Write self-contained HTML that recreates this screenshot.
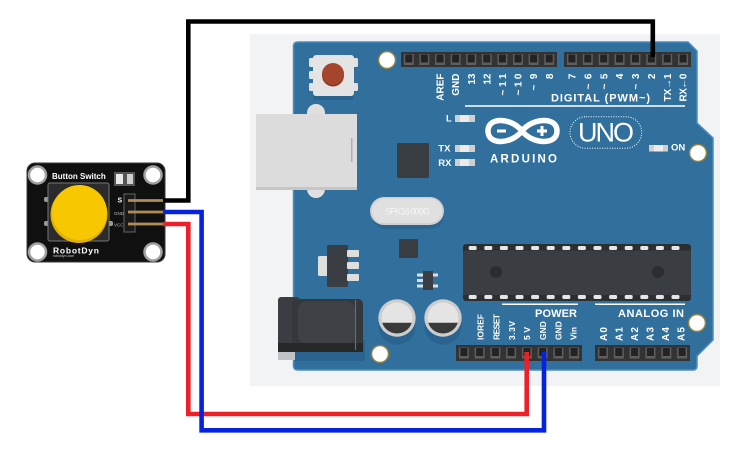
<!DOCTYPE html>
<html><head><meta charset="utf-8"><style>
html,body{margin:0;padding:0;background:#fff;}
svg{display:block;}
text{font-family:"Liberation Sans",sans-serif;}
</style></head><body>
<svg width="747" height="452" viewBox="0 0 747 452" xmlns="http://www.w3.org/2000/svg">
<defs>
<g id="pin"><rect x="-5" y="0" width="10" height="11" fill="#5e5e5e"/><rect x="-3.5" y="0.5" width="7" height="8" fill="#232323"/></g>
<rect id="cp" x="-4" y="0" width="8" height="4" rx="1.5" fill="#e6e6e6"/>
</defs>
<rect x="0" y="0" width="747" height="452" fill="#fff"/>
<rect x="250" y="34" width="470" height="352" fill="#f2f3f5"/>

<!-- board -->
<path d="M298,42 H688 L697,51 V123 L713,138 V340 L697,356 V366 Q697,370 693,370 H298 Q293.5,370 293.5,365.5 V46.5 Q293.5,42 298,42 Z" fill="#31709d" stroke="#4a8dc4" stroke-width="1.5"/>

<!-- shadows -->
<rect x="295" y="340" width="70" height="21" fill="#2a6390"/>
<circle cx="397" cy="326" r="18.7" fill="#2a6390"/>
<circle cx="443" cy="326" r="18.7" fill="#2a6390"/>
<rect x="372" y="202" width="72" height="27" rx="13" fill="#2c6592"/>
<rect x="313" y="60" width="41" height="40" rx="3" fill="#2a6390"/>

<!-- reset button -->
<rect x="309" y="58" width="5" height="9" rx="1.5" fill="#e2e2e2"/>
<rect x="309" y="71" width="5" height="8" rx="1.5" fill="#e2e2e2"/>
<rect x="309" y="83" width="5" height="8" rx="1.5" fill="#e2e2e2"/>
<rect x="353" y="58" width="5" height="9" rx="1.5" fill="#e2e2e2"/>
<rect x="353" y="83" width="5" height="8" rx="1.5" fill="#e2e2e2"/>
<rect x="313" y="55" width="41" height="41" rx="3" fill="#e4e4e4"/>
<circle cx="333" cy="75.5" r="11" fill="#8a3520"/>
<circle cx="333" cy="74" r="11" fill="#a5452b"/>

<!-- USB -->
<rect x="307" y="104" width="18" height="20" rx="9" fill="#e0e0e0"/>
<rect x="307" y="178" width="18" height="20" rx="9" fill="#e0e0e0"/>
<rect x="256" y="114" width="101" height="76" fill="#c6c6c6"/>
<rect x="256" y="114" width="101" height="73" fill="#dcdcdc"/>
<rect x="351" y="138" width="1.5" height="24" fill="#b0b0b0"/>

<!-- 16U2 chip -->
<rect x="397" y="143" width="32" height="35" rx="1.5" fill="#3a3d41"/>

<!-- LEDs -->
<g>
<rect x="455" y="115" width="20" height="7" fill="#cfcfcf"/><rect x="460" y="115" width="9" height="7" fill="#ececec"/>
<rect x="455" y="145" width="20" height="7" fill="#cfcfcf"/><rect x="460" y="145" width="9" height="7" fill="#ececec"/>
<rect x="455" y="159" width="20" height="7" fill="#cfcfcf"/><rect x="460" y="159" width="9" height="7" fill="#ececec"/>
<rect x="649" y="145" width="19" height="6.5" fill="#cfcfcf"/><rect x="654" y="145" width="9" height="6.5" fill="#ececec"/>
</g>
<g font-weight="bold" font-size="9.5" fill="#fff">
<text x="446" y="121.7">L</text>
<text x="438.3" y="151.7">TX</text>
<text x="438.3" y="166">RX</text>
<text x="671" y="150.7">ON</text>
</g>

<!-- top headers -->
<rect x="401" y="52" width="156" height="15" fill="#333"/>
<rect x="564" y="52" width="127" height="15" fill="#333"/>
<g>
<use href="#pin" x="408.8" y="54"/><use href="#pin" x="424.4" y="54"/><use href="#pin" x="440" y="54"/><use href="#pin" x="455.6" y="54"/><use href="#pin" x="471.2" y="54"/><use href="#pin" x="486.8" y="54"/><use href="#pin" x="502.4" y="54"/><use href="#pin" x="518" y="54"/><use href="#pin" x="533.6" y="54"/><use href="#pin" x="549.2" y="54"/>
<use href="#pin" x="571.9" y="54"/><use href="#pin" x="587.8" y="54"/><use href="#pin" x="603.7" y="54"/><use href="#pin" x="619.6" y="54"/><use href="#pin" x="635.4" y="54"/><use href="#pin" x="651.3" y="54"/><use href="#pin" x="667.2" y="54"/><use href="#pin" x="683.1" y="54"/>
</g>

<!-- top labels -->
<g font-size="10" font-weight="bold" fill="#fff" text-anchor="end">
<text transform="translate(443.6,73.5) rotate(-90)">AREF</text>
<text transform="translate(459.2,73.5) rotate(-90)">GND</text>
<text transform="translate(474.8,73.5) rotate(-90)">13</text>
<text transform="translate(490.4,73.5) rotate(-90)">12</text>
<text transform="translate(506,73.5) rotate(-90)" textLength="22">~11</text>
<text transform="translate(521.6,73.5) rotate(-90)" textLength="22">~10</text>
<text transform="translate(537.2,73.5) rotate(-90)" textLength="17">~9</text>
<text transform="translate(552.8,73.5) rotate(-90)">8</text>
<text transform="translate(575.5,73.5) rotate(-90)">7</text>
<text transform="translate(591.4,73.5) rotate(-90)" textLength="16">~6</text>
<text transform="translate(607.3,73.5) rotate(-90)" textLength="16">~5</text>
<text transform="translate(623.2,73.5) rotate(-90)">4</text>
<text transform="translate(639,73.5) rotate(-90)" textLength="16">~3</text>
<text transform="translate(654.9,73.5) rotate(-90)">2</text>
<text transform="translate(670.8,73.5) rotate(-90)" textLength="28">TX→1</text>
<text transform="translate(686.7,73.5) rotate(-90)" textLength="28">RX←0</text>
</g>
<text x="551" y="101.7" font-size="11" font-weight="bold" fill="#fff" textLength="99">DIGITAL (PWM~)</text>
<line x1="465" y1="106" x2="685" y2="106" stroke="#fff" stroke-width="1.5"/>

<!-- Arduino logo -->
<path d="M522,131 C512,118 488,116 488,131 C488,146 512,144 522,131 C532,118 557,116 557,131 C557,146 532,144 522,131 Z" fill="none" stroke="#fff" stroke-width="5.5"/>
<rect x="497" y="129.5" width="9" height="3" fill="#fff"/>
<rect x="537" y="129.5" width="10" height="3" fill="#fff"/>
<rect x="540.5" y="126" width="3" height="10" fill="#fff"/>
<text x="490" y="162.3" font-size="11.5" font-weight="bold" fill="#fff" textLength="67">ARDUINO</text>
<rect x="570" y="116.7" width="71.7" height="31.6" rx="15.8" fill="none" stroke="#fff" stroke-width="1" stroke-dasharray="1 1.5"/>
<text x="606" y="141.7" font-size="27" fill="#fff" text-anchor="middle" textLength="56">UNO</text>

<!-- crystal -->
<rect x="370" y="197" width="74" height="28" rx="14" fill="#d0d0d0"/>
<rect x="372" y="198.5" width="70" height="24.5" rx="12" fill="#e0e0e0"/>
<text x="385" y="214.5" font-size="9" fill="#f6f6f6" textLength="45">SPK16.000G</text>

<!-- regulator -->
<rect x="318" y="256" width="10" height="20" rx="1.5" fill="#dedede"/>
<rect x="327" y="245" width="21" height="42" rx="1.5" fill="#3a3d41"/>
<rect x="347" y="250" width="12" height="7" rx="1" fill="#dedede"/>
<rect x="347" y="262" width="12" height="7" rx="1" fill="#dedede"/>
<rect x="347" y="274" width="12" height="7" rx="1" fill="#dedede"/>

<!-- small chips -->
<rect x="399" y="239" width="19" height="19" rx="1" fill="#3a3d41"/>
<rect x="417" y="273.5" width="7" height="3" fill="#dedede"/>
<rect x="417" y="279" width="7" height="3" fill="#dedede"/>
<rect x="417" y="284.5" width="7" height="3" fill="#dedede"/>
<rect x="432" y="273.5" width="6" height="3" fill="#dedede"/>
<rect x="432" y="284.5" width="6" height="3" fill="#dedede"/>
<rect x="423" y="271" width="10" height="19" fill="#3a3d41"/>

<!-- power jack -->
<rect x="278" y="352" width="17" height="8" fill="#bfc2c6"/>
<rect x="278" y="297" width="22" height="55" rx="3" fill="#3a3d41"/>
<rect x="292" y="299" width="71" height="52" rx="5" fill="#34373b"/>
<rect x="298" y="301" width="57" height="44" rx="9" fill="#3e4145"/>
<rect x="278" y="343" width="85" height="9" fill="#26282a"/>
<line x1="355.5" y1="300" x2="355.5" y2="350" stroke="#6a6d70" stroke-width="1.2"/>

<!-- capacitors -->
<circle cx="397" cy="318" r="18.7" fill="#cdcdcd"/>
<circle cx="397" cy="318" r="15.5" fill="#e4e4e4"/>
<path d="M382.23,322.7 H411.77 A15.5,15.5 0 0 1 382.23,322.7 Z" fill="#3a3a3a"/>
<circle cx="443" cy="318" r="18.7" fill="#cdcdcd"/>
<circle cx="443" cy="318" r="15.5" fill="#e4e4e4"/>
<path d="M428.23,322.7 H457.77 A15.5,15.5 0 0 1 428.23,322.7 Z" fill="#3a3a3a"/>

<!-- mounting holes -->
<g fill="#fff" stroke="#8f8244" stroke-width="1.5">
<circle cx="387" cy="60" r="8.5"/>
<circle cx="698" cy="153" r="8.5"/>
<circle cx="697" cy="323" r="8.5"/>
<circle cx="380" cy="354" r="8.5"/>
</g>

<!-- ATmega -->
<rect x="463" y="244" width="228" height="57" rx="3" fill="#2c2e31"/>
<rect x="463" y="250.5" width="228" height="44.5" fill="#3a3d41"/>
<g>
<use href="#cp" x="472.7" y="246"/><use href="#cp" x="488.3" y="246"/><use href="#cp" x="503.9" y="246"/><use href="#cp" x="519.5" y="246"/><use href="#cp" x="535.1" y="246"/><use href="#cp" x="550.7" y="246"/><use href="#cp" x="566.3" y="246"/><use href="#cp" x="581.9" y="246"/><use href="#cp" x="597.5" y="246"/><use href="#cp" x="613.1" y="246"/><use href="#cp" x="628.7" y="246"/><use href="#cp" x="644.3" y="246"/><use href="#cp" x="659.9" y="246"/><use href="#cp" x="675.5" y="246"/>
<use href="#cp" x="472.7" y="295"/><use href="#cp" x="488.3" y="295"/><use href="#cp" x="503.9" y="295"/><use href="#cp" x="519.5" y="295"/><use href="#cp" x="535.1" y="295"/><use href="#cp" x="550.7" y="295"/><use href="#cp" x="566.3" y="295"/><use href="#cp" x="581.9" y="295"/><use href="#cp" x="597.5" y="295"/><use href="#cp" x="613.1" y="295"/><use href="#cp" x="628.7" y="295"/><use href="#cp" x="644.3" y="295"/><use href="#cp" x="659.9" y="295"/><use href="#cp" x="675.5" y="295"/>
</g>
<circle cx="496" cy="272" r="6" fill="#2a2c2f"/>
<circle cx="658" cy="272" r="6" fill="#2a2c2f"/>

<!-- power / analog labels -->
<line x1="502" y1="304.3" x2="578" y2="304.3" stroke="#fff" stroke-width="1.5"/>
<line x1="595" y1="304.3" x2="685" y2="304.3" stroke="#fff" stroke-width="1.5"/>
<text x="535" y="317" font-size="11" font-weight="bold" fill="#fff" textLength="42">POWER</text>
<text x="618" y="317" font-size="11" font-weight="bold" fill="#fff" textLength="66">ANALOG IN</text>
<g font-size="8.5" font-weight="bold" fill="#fff">
<text transform="translate(483.5,340) rotate(-90)">IOREF</text>
<text transform="translate(499.3,340) rotate(-90)" textLength="26">RESET</text>
<text transform="translate(515,340) rotate(-90)" textLength="19">3.3V</text>
<text transform="translate(530,340) rotate(-90)" textLength="13">5V</text>
<text transform="translate(546,340) rotate(-90)">GND</text>
<text transform="translate(561.3,340) rotate(-90)">GND</text>
<text transform="translate(576.7,340) rotate(-90)">Vin</text>
</g>
<g font-size="10" font-weight="bold" fill="#fff">
<text transform="translate(607,341) rotate(-90)" textLength="14">A0</text>
<text transform="translate(622.5,341) rotate(-90)" textLength="14">A1</text>
<text transform="translate(638,341) rotate(-90)" textLength="14">A2</text>
<text transform="translate(653.6,341) rotate(-90)" textLength="14">A3</text>
<text transform="translate(669.2,341) rotate(-90)" textLength="14">A4</text>
<text transform="translate(684.7,341) rotate(-90)" textLength="14">A5</text>
</g>

<!-- bottom headers -->
<rect x="456" y="345" width="126" height="16" fill="#333"/>
<rect x="595" y="345" width="95" height="16" fill="#333"/>
<g>
<use href="#pin" x="463.9" y="347.5"/><use href="#pin" x="479.6" y="347.5"/><use href="#pin" x="495.4" y="347.5"/><use href="#pin" x="511.1" y="347.5"/><use href="#pin" x="526.9" y="347.5"/><use href="#pin" x="542.6" y="347.5"/><use href="#pin" x="558.4" y="347.5"/><use href="#pin" x="574.1" y="347.5"/>
<use href="#pin" x="602.9" y="347.5"/><use href="#pin" x="618.8" y="347.5"/><use href="#pin" x="634.6" y="347.5"/><use href="#pin" x="650.4" y="347.5"/><use href="#pin" x="666.3" y="347.5"/><use href="#pin" x="682.1" y="347.5"/>
</g>

<!-- Button module -->
<rect x="27" y="163" width="138" height="99" rx="8" fill="#101010" stroke="#3a3a3a" stroke-width="1"/>
<g fill="#fff" stroke="#a0a0a0" stroke-width="2.5">
<circle cx="37.5" cy="175" r="8.5"/>
<circle cx="153" cy="175" r="8.5"/>
<circle cx="37.5" cy="252" r="8.5"/>
<circle cx="153" cy="252" r="8.5"/>
</g>
<text x="52" y="179" font-size="8" font-weight="bold" fill="#fff">Button Switch</text>
<rect x="114" y="172" width="21" height="14" fill="#555"/>
<rect x="116" y="174" width="7" height="10" fill="#e8e8e8"/>
<rect x="127" y="174" width="6" height="10" fill="#cfcfcf"/>
<rect x="44" y="197" width="7" height="5" rx="2" fill="#9a9a9a"/>
<rect x="44" y="221" width="7" height="5" rx="2" fill="#9a9a9a"/>
<rect x="106" y="221" width="7" height="5" rx="2" fill="#9a9a9a"/>
<rect x="48" y="183" width="61" height="58" rx="2" fill="#2b2b2b" stroke="#777" stroke-width="1"/>
<circle cx="79" cy="214.5" r="28.5" fill="#e2b000"/>
<circle cx="79.5" cy="212.5" r="27.5" fill="#f7c800"/>
<rect x="124" y="194" width="11" height="38" fill="#1a1a1a" stroke="#666" stroke-width="1"/>
<g stroke="#b08d57" stroke-width="2.7">
<line x1="128" y1="200.5" x2="164" y2="200.5"/>
<line x1="128" y1="212" x2="164" y2="212"/>
<line x1="128" y1="224" x2="164" y2="224"/>
</g>
<text x="117.5" y="202.7" font-size="7" font-weight="bold" fill="#fff">S</text>
<text x="114" y="215" font-size="4.5" fill="#bbb">GND</text>
<text x="114" y="226.7" font-size="4.5" fill="#bbb">VCC</text>
<text x="53" y="253.3" font-size="8.5" font-weight="bold" fill="#fff" textLength="46">RobotDyn</text>
<text x="53" y="257" font-size="3.5" fill="#ccc">robotdyn.com</text>

<!-- wires -->
<g fill="none" stroke-width="4.6" stroke-linejoin="miter" stroke-linecap="butt">
<path d="M163,200.5 H188.3 V21.5 H652.8 V57" stroke="#000"/>
<path d="M163,224 H188.3 V414 H526.7 V352" stroke="#ee1f26"/>
<path d="M163,212 H201.6 V430.3 H544 V352" stroke="#0522e0"/>
</g>
</svg>
</body></html>
